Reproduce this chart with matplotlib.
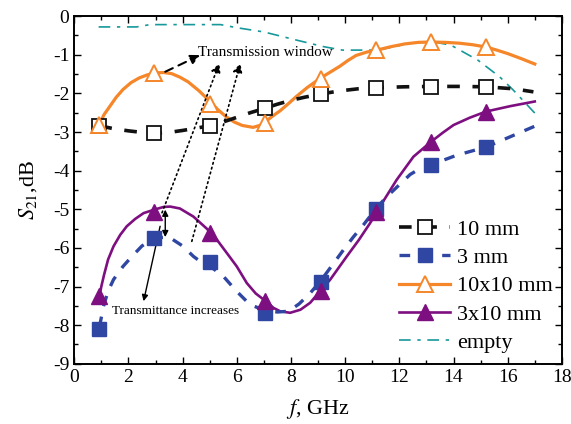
import matplotlib
matplotlib.use("Agg")
import matplotlib.pyplot as plt
from matplotlib.lines import Line2D
from matplotlib.ticker import MultipleLocator

plt.rcParams['font.family'] = ['Liberation Serif', 'DejaVu Serif']
plt.rcParams['mathtext.fontset'] = 'stix'
plt.rcParams['axes.unicode_minus'] = False

# ---- data ----
freq_marks = [0.93, 2.96, 5.0, 7.05, 9.1, 11.15, 13.17, 15.2]

s10_marks = [-2.84, -3.03, -2.84, -2.39, -2.02, -1.85, -1.83, -1.83]
s10_x = [0.93, 1.5, 2.0, 2.5, 2.96, 3.5, 4.0, 4.5, 5.0, 5.5, 6.0, 6.5, 7.02, 7.5, 8.0, 8.5, 9.08, 9.5, 10.0, 10.5,
         11.13, 12.2, 13.17, 14.2, 15.19, 16.2, 16.95]
s10_y = [-2.84, -2.92, -2.97, -3.01, -3.03, -3.01, -2.96, -2.9, -2.84, -2.74, -2.62, -2.5, -2.39, -2.28, -2.18, -2.1,
         -2.02, -1.97, -1.92, -1.88, -1.85, -1.83, -1.82, -1.82, -1.83, -1.88, -1.96]

s3_marks = [-8.09, -5.74, -6.36, -7.68, -6.87, -4.99, -3.85, -3.39]
s3_x = [0.93, 1.0, 1.08, 1.25, 1.45, 1.8, 2.13, 2.5, 2.96, 3.5, 4.0, 4.4, 4.65, 5.1, 5.51, 5.99, 6.49, 7.05, 7.5,
        7.91, 8.3, 8.71, 9.08, 9.5, 9.94, 10.3, 10.68, 11.13, 11.5, 11.8, 12.4, 12.8, 13.17, 14.12, 15.2, 15.97, 17.0]
s3_y = [-8.05, -7.8, -7.51, -7.12, -6.82, -6.48, -6.22, -5.95, -5.74, -5.72, -5.95, -6.22, -6.35, -6.52, -6.74,
        -7.12, -7.47, -7.62, -7.66, -7.64, -7.45, -7.17, -6.87, -6.47, -6.05, -5.72, -5.4, -4.99, -4.7, -4.5, -4.1,
        -3.93, -3.85, -3.6, -3.39, -3.16, -2.85]

s1010_marks = [-2.82, -1.46, -2.27, -2.77, -1.63, -0.88, -0.66, -0.79]
s1010_x = [0.93, 1.1, 1.3, 1.55, 1.8, 2.1, 2.4, 2.7, 3.0, 3.3, 3.6, 3.9, 4.2, 4.6, 5.0, 5.3, 5.6, 5.9, 6.2, 6.6,
           6.85, 7.05, 7.3, 7.6, 7.9, 8.2, 8.6, 9.1, 9.45, 9.8, 10.1, 10.4, 10.8, 11.17, 11.7, 12.2, 12.7, 13.16,
           13.7, 14.2, 14.7, 15.2, 15.6, 16.0, 16.5, 17.0]
s1010_y = [-2.8, -2.55, -2.35, -2.1, -1.9, -1.72, -1.6, -1.52, -1.47, -1.46, -1.49, -1.58, -1.7, -1.93, -2.2, -2.42,
           -2.6, -2.74, -2.83, -2.88, -2.83, -2.74, -2.6, -2.45, -2.27, -2.08, -1.85, -1.6, -1.45, -1.3, -1.15, -1.02,
           -0.93, -0.88, -0.79, -0.72, -0.68, -0.67, -0.68, -0.7, -0.74, -0.8, -0.88, -0.97, -1.1, -1.24]

s310_marks = [-7.25, -5.06, -5.62, -7.38, -7.12, -5.06, -3.27, -2.47]
s310_x = [0.93, 1.0, 1.1, 1.25, 1.45, 1.7, 1.94, 2.25, 2.56, 3.0, 3.3, 3.54, 3.9, 4.4, 4.89, 5.3, 5.63, 6.0, 6.37,
          6.7, 7.07, 7.35, 7.6, 7.97, 8.35, 8.71, 9.1, 9.45, 10.06, 10.5, 10.92, 11.4, 11.9, 12.52, 13.14, 13.6,
          14.0, 14.6, 15.2, 16.1, 17.0]
s310_y = [-7.25, -7.0, -6.7, -6.3, -5.96, -5.66, -5.44, -5.25, -5.1, -5.0, -4.94, -4.93, -4.98, -5.19, -5.5, -5.82,
          -6.13, -6.48, -6.91, -7.18, -7.38, -7.55, -7.64, -7.68, -7.6, -7.42, -7.1, -6.82, -6.22, -5.8, -5.36, -4.8,
          -4.24, -3.64, -3.27, -3.02, -2.82, -2.63, -2.47, -2.33, -2.21]

empty_x = [0.9, 2.3, 2.8, 5.4, 6.0, 7.0, 8.2, 9.2, 9.9, 11.2, 11.9, 12.4, 13.2, 13.9, 14.9, 15.7, 16.2, 17.0]
empty_y = [-0.28, -0.28, -0.22, -0.22, -0.3, -0.41, -0.62, -0.79, -0.88, -0.88, -0.78, -0.7, -0.66, -0.75, -1.14,
           -1.57, -1.91, -2.51]

labels = ['10 mm', '3 mm', '10x10 mm', '3x10 mm', 'empty']
xticks = [0, 2, 4, 6, 8, 10, 12, 14, 16, 18]
yticks = [0, -1, -2, -3, -4, -5, -6, -7, -8, -9]

# ---- styles ----
c_black = '#111111'
c_blue = '#2F47A3'
c_orange = '#F5862A'
c_purple = '#7E0F80'
c_teal = '#17989A'

fig = plt.figure(figsize=(5.71, 4.24), dpi=100)
ax = fig.add_axes([0.130, 0.142, 0.854, 0.820])

ax.plot(empty_x, empty_y, color=c_teal, lw=1.2, ls=(0, (7, 4, 2, 4)), zorder=2)
ax.plot(s1010_x, s1010_y, color=c_orange, lw=2.3, zorder=3)
ax.plot(s310_x, s310_y, color=c_purple, lw=1.9, zorder=3)
ax.plot(s10_x, s10_y, color=c_black, lw=2.6, ls=(0, (3.5, 3.5)), zorder=3)
ax.plot(s3_x, s3_y, color=c_blue, lw=2.4, ls=(0, (3.2, 3.2)), zorder=3)

ax.plot(freq_marks, s10_marks, ls='none', marker='s', ms=10, mfc='white', mec=c_black, mew=1.3, zorder=5)
ax.plot(freq_marks, s3_marks, ls='none', marker='s', ms=10, mfc=c_blue, mec=c_blue, zorder=5)
ax.plot(freq_marks, s1010_marks, ls='none', marker='^', ms=12, mfc='white', mec=c_orange, mew=1.4, zorder=5)
ax.plot(freq_marks, s310_marks, ls='none', marker='^', ms=12, mfc=c_purple, mec=c_purple, zorder=5)

ax.set_xlim(0, 18)
ax.set_ylim(-9, 0)
ax.set_xticks(xticks)
ax.set_yticks(yticks)
ax.xaxis.set_minor_locator(MultipleLocator(1))
ax.yaxis.set_minor_locator(MultipleLocator(0.5))
ax.tick_params(which='both', direction='in', top=True, right=True, labelsize=14, width=1.0)
ax.tick_params(which='major', length=5)
ax.tick_params(which='minor', length=3)
for s in ax.spines.values():
    s.set_linewidth(1.4)

ax.set_xlabel('$f$, GHz', fontsize=16, labelpad=8)
ax.set_ylabel('$S_{21}$,dB', fontsize=16, labelpad=10)

# annotations
ax.text(4.58, -0.93, 'Transmission window', fontsize=11, va='center', ha='left')
ax.text(1.39, -7.64, 'Transmittance increases', fontsize=9.5, va='center', ha='left')

ax.annotate('', xy=(4.65, -1.01), xytext=(3.36, -1.44),
            arrowprops=dict(arrowstyle='-|>', color='black', lw=1.5, ls=(0, (4, 3)),
                            mutation_scale=14, shrinkA=0, shrinkB=0))
ax.annotate('', xy=(5.36, -1.22), xytext=(3.24, -5.09),
            arrowprops=dict(arrowstyle='-|>', color='black', lw=1.2, ls=(0, (1, 2)),
                            mutation_scale=14, shrinkA=0, shrinkB=0))
ax.annotate('', xy=(6.13, -1.22), xytext=(4.34, -5.83),
            arrowprops=dict(arrowstyle='-|>', color='black', lw=1.2, ls=(0, (1, 2)),
                            mutation_scale=14, shrinkA=0, shrinkB=0))
ax.annotate('', xy=(3.36, -5.01), xytext=(3.36, -5.72),
            arrowprops=dict(arrowstyle='<|-|>', color='black', lw=1.0,
                            mutation_scale=9, shrinkA=0, shrinkB=0))
ax.annotate('', xy=(2.56, -7.38), xytext=(3.17, -5.44),
            arrowprops=dict(arrowstyle='-|>', color='black', lw=1.0,
                            mutation_scale=9, shrinkA=0, shrinkB=0))

handles = [
    Line2D([], [], color=c_black, lw=2.6, ls=(0, (3.5, 3.5)), marker='s', ms=10, mfc='white', mec=c_black, mew=1.3),
    Line2D([], [], color=c_blue, lw=2.4, ls=(0, (3.2, 3.2)), marker='s', ms=10, mfc=c_blue, mec=c_blue),
    Line2D([], [], color=c_orange, lw=2.3, marker='^', ms=12, mfc='white', mec=c_orange, mew=1.4),
    Line2D([], [], color=c_purple, lw=1.9, marker='^', ms=12, mfc=c_purple, mec=c_purple),
    Line2D([], [], color=c_teal, lw=1.2, ls=(0, (7, 4, 2, 4))),
]
fig.legend(handles, labels, loc='upper left', bbox_to_anchor=(0.699, 0.483),
           frameon=False, fontsize=16, borderpad=0, borderaxespad=0,
           handlelength=2.3, handletextpad=0.3, labelspacing=0.35)

fig.savefig('out.png', dpi=100)
